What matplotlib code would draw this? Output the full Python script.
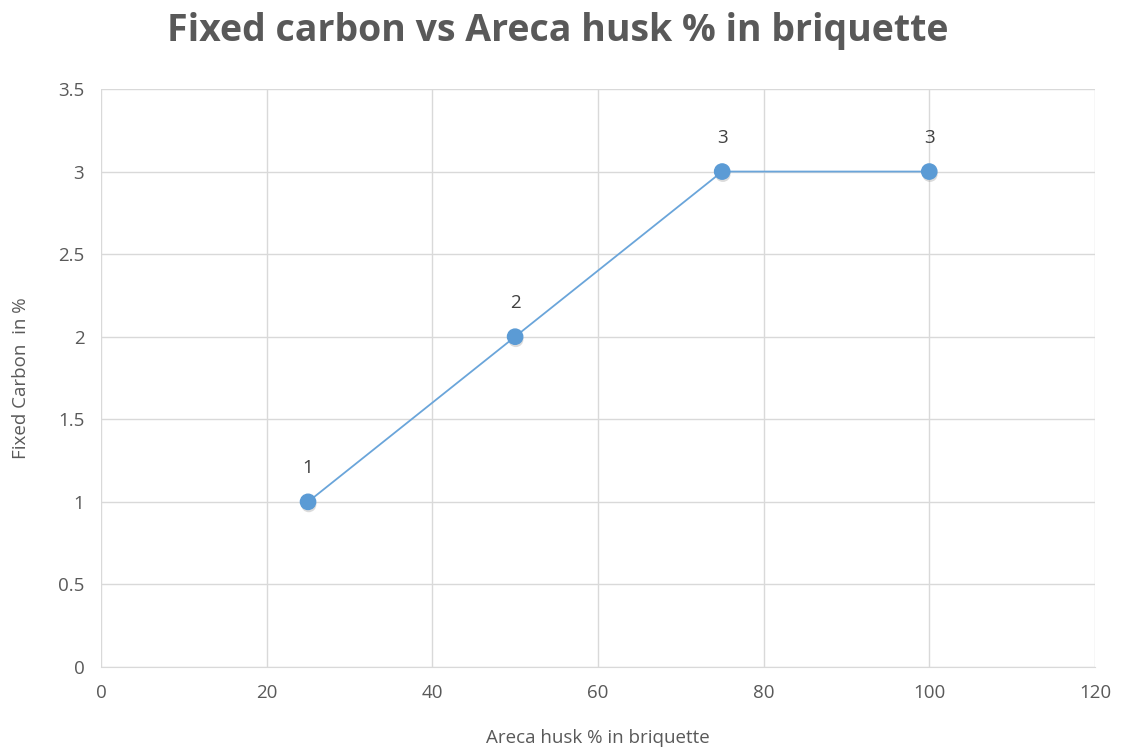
import matplotlib
matplotlib.use("Agg")
import matplotlib.pyplot as plt
import matplotlib.patheffects as pe

husk_pct = [25, 50, 75, 100]
fixed_carbon = [1, 2, 3, 3]
point_labels = ["1", "2", "3", "3"]
x_ticks = [0, 20, 40, 60, 80, 100, 120]
y_ticks = [0, 0.5, 1, 1.5, 2, 2.5, 3, 3.5]

plt.rcParams['font.family'] = ['Open Sans', 'DejaVu Sans']

fig = plt.figure(figsize=(11.23, 7.54), dpi=100)
ax = fig.add_axes([0.0899, 0.1154, 0.8851, 0.7666])

ax.plot(husk_pct, fixed_carbon, color='#6AA5DA', lw=1.3, zorder=3)
# soft shadow under the markers
ax.plot(husk_pct, fixed_carbon, ls='none', marker='o', ms=11, color='#5B9BD5',
        mec='#5B9BD5', zorder=4,
        path_effects=[pe.SimplePatchShadow(offset=(0.5, -2), shadow_rgbFace='#9a9a9a',
                                           alpha=0.35), pe.Normal()])

for x, y, s in zip(husk_pct, fixed_carbon, point_labels):
    ax.annotate(s, (x, y), xytext=(0, 18), textcoords='offset points',
                ha='center', va='bottom', fontsize=13.5, color='#404040')

ax.set_xlim(0, 120)
ax.set_ylim(0, 3.5)
ax.set_xticks(x_ticks)
ax.set_yticks(y_ticks)
ax.set_yticklabels([f"{v:g}" for v in y_ticks])
ax.grid(True, color='#d9d9d9', lw=1)
ax.set_axisbelow(True)
for side in ['top', 'right', 'left']:
    ax.spines[side].set_visible(False)
ax.spines['bottom'].set_color('#d9d9d9')
ax.tick_params(length=0, labelsize=13.5, colors='#595959', pad=12)

ax.set_xlabel('Areca husk % in briquette', fontsize=13.5, color='#595959', labelpad=20)
ax.set_ylabel('Fixed Carbon  in %', fontsize=13.5, color='#595959', labelpad=20)
fig.suptitle('Fixed carbon vs Areca husk % in briquette', fontsize=27, fontweight='bold',
             color='#595959', x=0.497, y=0.984)

fig.savefig('out.png', dpi=100)
